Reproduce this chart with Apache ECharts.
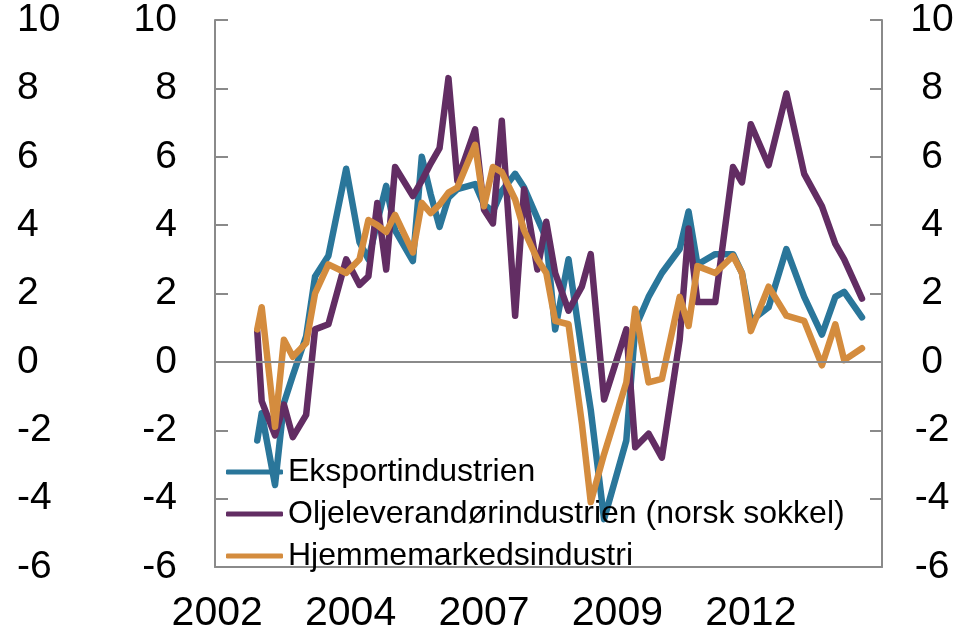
<!DOCTYPE html>
<html>
<head>
    <meta charset="utf-8">
    <title>Industri</title>
    <style>
        html, body { margin: 0; padding: 0; background: #fff; }
        #chart { width: 972px; height: 636px; }
    </style>
</head>
<body>
    <div id="chart"></div>
    <script src="https://cdn.jsdelivr.net/npm/echarts@6/dist/echarts.min.js"></script>
    <script>
        // månedlige kategorier, 2002-01 til 2014-06
        var startYear = 2002;
        var months = [];
        for (var i = 0; i < 150; i++) {
            var y = startYear + Math.floor(i / 12);
            var m = (i % 12) + 1;
            months.push(y + '-' + (m < 10 ? '0' + m : m));
        }

        // observasjonstidspunkt
        var obsMonths = [
            '2002-10', '2002-11', '2003-02', '2003-04', '2003-06', '2003-09', '2003-11',
            '2004-02', '2004-06', '2004-09', '2004-11', '2005-01', '2005-03', '2005-05',
            '2005-09', '2005-11', '2006-01', '2006-03', '2006-05', '2006-07', '2006-11',
            '2007-01', '2007-03', '2007-05', '2007-08', '2007-10', '2008-01', '2008-03',
            '2008-05', '2008-08', '2008-11', '2009-01', '2009-04', '2009-09', '2009-11',
            '2010-02', '2010-05', '2010-09', '2010-11', '2011-01', '2011-05', '2011-09',
            '2011-11', '2012-01', '2012-05', '2012-09', '2013-01', '2013-05', '2013-08',
            '2013-10', '2014-02'
        ];

        var eksport = [
            -2.3, -1.5, -3.6, -1.2, -0.4, 0.75, 2.5,
            3.1, 5.65, 3.5, 3.0, 4.1, 5.15, 3.85,
            2.95, 6.0, 4.9, 3.95, 4.8, 5.05, 5.2,
            4.6, 4.4, 5.0, 5.5, 5.1, 4.2, 3.6,
            0.95, 3.0, 0.3, -1.4, -4.6, -2.3, 1.0,
            1.9, 2.6, 3.3, 4.4, 2.85, 3.15, 3.15,
            2.6, 1.2, 1.6, 3.3, 1.9, 0.8, 1.9,
            2.05, 1.3
        ];
        var olje = [
            0.9, -1.15, -2.15, -1.25, -2.2, -1.55, 0.95,
            1.1, 3.0, 2.25, 2.5, 4.65, 2.7, 5.7,
            4.85, 5.3, 5.8, 6.25, 8.3, 5.3, 6.8,
            4.45, 4.05, 7.05, 1.35, 5.05, 2.7, 4.1,
            2.6, 1.5, 2.2, 3.15, -1.1, 0.95, -2.5,
            -2.1, -2.8, 0.65, 3.9, 1.75, 1.75, 5.7,
            5.25, 6.95, 5.75, 7.85, 5.5, 4.55, 3.45,
            3.0, 1.85
        ];
        var hjemme = [
            0.95, 1.6, -1.9, 0.65, 0.15, 0.55, 2.0,
            2.85, 2.6, 3.0, 4.15, 4.0, 3.8, 4.3,
            3.2, 4.65, 4.35, 4.6, 4.95, 5.1, 6.35,
            4.55, 5.7, 5.55, 4.75, 3.85, 3.0, 2.6,
            1.2, 1.1, -1.8, -4.1, -2.7, -0.6, 1.55,
            -0.6, -0.5, 1.9, 1.05, 2.8, 2.6, 3.1,
            2.6, 0.9, 2.2, 1.35, 1.2, -0.1, 1.1,
            0.05, 0.4
        ];

        var seriesNames = ['Eksportindustrien', 'Oljeleverandørindustrien (norsk sokkel)', 'Hjemmemarkedsindustri'];
        var seriesValues = [eksport, olje, hjemme];
        var colors = ['#2a769a', '#622d63', '#d48c3e'];

        var pair = function (vals) {
            return vals.map(function (v, k) { return [obsMonths[k], v]; });
        };

        var axisGray = '#8a8a8a';
        var fontFam = '"Liberation Sans", Arial, sans-serif';

        var series = seriesNames.map(function (name, i) {
            var s = {
                name: name,
                type: 'line',
                symbol: 'none',
                connectNulls: true,
                lineStyle: { width: 6.5, color: colors[i], cap: 'round', join: 'round' },
                itemStyle: { color: colors[i] },
                data: pair(seriesValues[i])
            };
            if (i === 0) {
                // nullinje
                s.markLine = {
                    silent: true,
                    symbol: 'none',
                    label: { show: false },
                    lineStyle: { color: axisGray, width: 2, type: 'solid' },
                    data: [{ yAxis: 0 }]
                };
            }
            return s;
        });

        var yBase = {
            type: 'value',
            min: -6,
            max: 10,
            interval: 2,
            splitLine: { show: false }
        };

        var chart = echarts.init(document.getElementById('chart'));
        chart.setOption({
            animation: false,
            textStyle: { fontFamily: fontFam },
            grid: { left: 215, right: 90, top: 20, bottom: 69 },
            legend: {
                orient: 'vertical',
                left: 221,
                top: 451,
                itemWidth: 57,
                itemHeight: 5,
                itemGap: 10,
                icon: 'roundRect',
                textStyle: { fontSize: 32, color: '#000', fontFamily: fontFam },
                data: seriesNames
            },
            xAxis: {
                type: 'category',
                data: months,
                boundaryGap: true,
                axisLine: { onZero: false, lineStyle: { color: axisGray, width: 2 } },
                axisTick: { inside: true, length: 12, interval: 29, lineStyle: { color: axisGray, width: 2 } },
                axisLabel: {
                    interval: 29,
                    fontSize: 41,
                    color: '#000',
                    margin: 26,
                    formatter: function (v) { return v.slice(0, 4); }
                }
            },
            yAxis: [
                Object.assign({}, yBase, {
                    position: 'left',
                    axisLine: { show: true, lineStyle: { color: axisGray, width: 2 } },
                    axisTick: { show: true, inside: true, length: 13, lineStyle: { color: axisGray, width: 2 } },
                    axisLabel: { fontSize: 39, color: '#000', margin: 38 }
                }),
                Object.assign({}, yBase, {
                    position: 'left',
                    axisLine: { show: false },
                    axisTick: { show: false },
                    axisLabel: { fontSize: 39, color: '#000', margin: 198, align: 'left' }
                }),
                Object.assign({}, yBase, {
                    position: 'right',
                    axisLine: { show: true, lineStyle: { color: axisGray, width: 2 } },
                    axisTick: { show: true, inside: true, length: 12, lineStyle: { color: axisGray, width: 2 } },
                    axisLabel: { fontSize: 39, color: '#000', margin: 50, align: 'center' }
                })
            ],
            series: series
        });
    </script>
</body>
</html>
